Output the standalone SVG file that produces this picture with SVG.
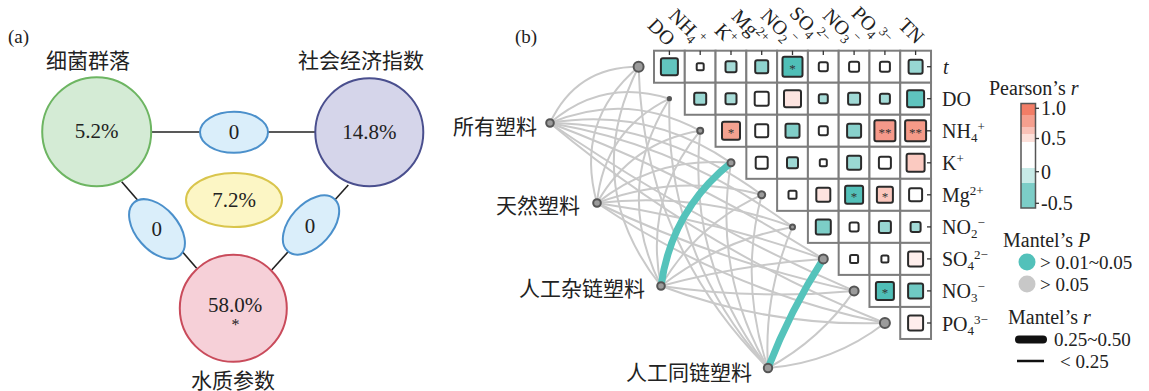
<svg xmlns="http://www.w3.org/2000/svg" width="1149" height="391" viewBox="0 0 1149 391">
<defs>
<style>
.t{font-family:"Liberation Serif","Noto Sans CJK SC",serif;fill:#222;font-size:20px}
.c{font-family:"Liberation Serif","Noto Sans CJK SC",serif;fill:#222;font-size:21px}
.n21{font-family:"Liberation Serif",serif;fill:#222;font-size:21px;text-anchor:middle}
.cell{fill:#fff;stroke:#7d7d7d;stroke-width:2}
.sq{stroke:#2b2b2b;stroke-width:2}
.st{font-family:"Liberation Serif",serif;fill:#333;font-size:13px;text-anchor:middle}
.g{fill:none;stroke:#c9c9c9;stroke-width:2}
.teal{fill:none;stroke:#55c3bb;stroke-width:7;stroke-linecap:round}
.node{fill:#9b9b9b;stroke:#555;stroke-width:2}
.tick{stroke:#333;stroke-width:1.3}
.sub{font-size:13px}
.lnk{stroke:#222;stroke-width:1.6}
.li{font-size:19px}
</style>
<linearGradient id="pr" x1="0" y1="0" x2="0" y2="1">
<stop offset="0" stop-color="#f27d66"/><stop offset="0.11" stop-color="#f27d66"/>
<stop offset="0.11" stop-color="#f59f8e"/><stop offset="0.228" stop-color="#f59f8e"/>
<stop offset="0.228" stop-color="#f9c1b7"/><stop offset="0.292" stop-color="#f9c1b7"/>
<stop offset="0.292" stop-color="#fde0da"/><stop offset="0.366" stop-color="#fde0da"/>
<stop offset="0.366" stop-color="#ffffff"/><stop offset="0.62" stop-color="#ffffff"/>
<stop offset="0.62" stop-color="#c8ebe8"/><stop offset="0.764" stop-color="#c8ebe8"/>
<stop offset="0.764" stop-color="#7ccdc7"/><stop offset="1" stop-color="#7ccdc7"/>
</linearGradient>
</defs>
<rect width="1149" height="391" fill="#fff"/>

<!-- ===== Part (a) ===== -->
<text class="t" x="8" y="43" style="font-size:19px">(a)</text>
<g id="a-links">
<line class="lnk" x1="152" y1="132" x2="315" y2="132"/>
<line class="lnk" x1="121.7" y1="181.7" x2="196.7" y2="268.3"/>
<line class="lnk" x1="348.3" y1="185" x2="271.7" y2="270"/>
</g>
<g id="a-bacteria">
<circle cx="96.7" cy="131.7" r="54.5" fill="#d4ebd5" stroke="#6db562" stroke-width="2"/>
<text class="n21" x="96.7" y="138">5.2%</text>
<text class="c" x="88" y="68" text-anchor="middle">细菌群落</text>
</g>
<g id="a-socio">
<circle cx="369.3" cy="132.3" r="54" fill="#d5d5ea" stroke="#4a4f8e" stroke-width="2"/>
<text class="n21" x="369.3" y="139">14.8%</text>
<text class="c" x="361" y="68" text-anchor="middle">社会经济指数</text>
</g>
<g id="a-water">
<circle cx="233.3" cy="308.3" r="53.5" fill="#f6d0d8" stroke="#c94b5b" stroke-width="2"/>
<text class="n21" x="235" y="312">58.0%</text>
<text class="n21" x="235.5" y="330" style="font-size:16px">*</text>
<text class="c" x="233" y="388" text-anchor="middle">水质参数</text>
</g>
<g id="a-e-top">
<ellipse cx="234" cy="132.3" rx="34" ry="20.5" fill="#daeefa" stroke="#4b90cb" stroke-width="2"/>
<text class="n21" x="234" y="139">0</text>
</g>
<g id="a-e-left">
<ellipse cx="0" cy="0" rx="35" ry="21" transform="translate(157,229) rotate(49)" fill="#daeefa" stroke="#4b90cb" stroke-width="2"/>
<text class="n21" x="156.7" y="236">0</text>
</g>
<g id="a-e-right">
<ellipse cx="0" cy="0" rx="35" ry="21" transform="translate(311,225) rotate(-48)" fill="#daeefa" stroke="#4b90cb" stroke-width="2"/>
<text class="n21" x="310" y="233">0</text>
</g>
<g id="a-e-center">
<ellipse cx="234" cy="200" rx="48" ry="27" fill="#fcf6c5" stroke="#d9c54c" stroke-width="2"/>
<text class="n21" x="234" y="207">7.2%</text>
</g>

<!-- ===== Part (b) ===== -->
<text class="t" x="515" y="43" style="font-size:19px">(b)</text>

<g id="connectors">
<!-- from 所有塑料 -->
<path class="g" d="M550,123 Q576.3,66.5 638.6,66.7"/>
<path class="g" d="M550,123 Q602.9,77.4 669.4,98.7"/>
<path class="g" d="M550,123 Q627,90.9 700.2,130.8"/>
<path class="g" d="M550,123 Q648.5,106.7 731,162.8"/>
<path class="g" d="M550,123 Q667.3,125 761.7,194.8"/>
<path class="g" d="M550,123 Q683.7,145.9 792.5,226.9"/>
<path class="g" d="M550,123 Q693.4,177.3 823.3,258.9"/>
<path class="g" d="M550,123 Q693.7,222 854.1,290.9"/>
<path class="g" d="M550,123 Q701.5,249.9 884.9,323"/>
<!-- from 天然塑料 -->
<path class="g" d="M597,203 Q574.2,121.5 638.6,66.7"/>
<path class="g" d="M597,203 Q604,130.6 669.4,98.7"/>
<path class="g" d="M597,203 Q631.3,142.1 700.2,130.8"/>
<path class="g" d="M597,203 Q656,156.1 731,162.8"/>
<path class="g" d="M597,203 Q678,172.6 761.7,194.8"/>
<path class="g" d="M597,203 Q697.6,191.5 792.5,226.9"/>
<path class="g" d="M597,203 Q713,219.6 823.3,258.9"/>
<path class="g" d="M597,203 Q720.3,262.4 854.1,290.9"/>
<path class="g" d="M597,203 Q729,291.8 884.9,323"/>
<!-- from 人工杂链塑料 -->
<path class="g" d="M661,286 Q579.6,183.5 638.6,66.7"/>
<path class="g" d="M661,286 Q612.8,190 669.4,98.7"/>
<path class="g" d="M661,286 Q643.4,199 700.2,130.8"/>
<path class="g" d="M661,286 Q696.8,224.3 761.7,194.8"/>
<path class="g" d="M661,286 Q719.7,240.7 792.5,226.9"/>
<path class="g" d="M661,286 Q740.8,264.3 823.3,258.9"/>
<path class="g" d="M661,286 Q757.3,300 854.1,290.9"/>
<path class="g" d="M661,286 Q769.3,326.9 884.9,323"/>
<!-- from 人工同链塑料 -->
<path class="g" d="M768,368 Q643,243.3 638.6,66.7"/>
<path class="g" d="M768,368 Q664.8,253 669.4,98.7"/>
<path class="g" d="M768,368 Q686.7,263 700.2,130.8"/>
<path class="g" d="M768,368 Q712.6,272.1 731,162.8"/>
<path class="g" d="M768,368 Q738.9,282.4 761.7,194.8"/>
<path class="g" d="M768,368 Q763.4,294.5 792.5,226.9"/>
<path class="g" d="M768,368 Q820.3,339.8 854.1,290.9"/>
<path class="g" d="M768,368 Q833.2,363 884.9,323"/>
<!-- significant links -->
<path class="teal" d="M661,286 Q671.4,210.4 731,162.8"/>
<path class="teal" d="M768,368 Q790.2,310.7 823.3,258.9"/>
</g>

<g id="heatmap">
<g id="row-t">
<rect class="cell" x="654" y="50.7" width="30.78" height="32.03"/>
<rect class="cell" x="684.78" y="50.7" width="30.78" height="32.03"/>
<rect class="cell" x="715.56" y="50.7" width="30.78" height="32.03"/>
<rect class="cell" x="746.34" y="50.7" width="30.78" height="32.03"/>
<rect class="cell" x="777.12" y="50.7" width="30.78" height="32.03"/>
<rect class="cell" x="807.9" y="50.7" width="30.78" height="32.03"/>
<rect class="cell" x="838.68" y="50.7" width="30.78" height="32.03"/>
<rect class="cell" x="869.46" y="50.7" width="30.78" height="32.03"/>
<rect class="cell" x="900.24" y="50.7" width="30.78" height="32.03"/>
<rect class="sq" x="660.9" y="58.2" width="17" height="17" rx="2" fill="#62c4be"/>
<rect class="sq" x="696.7" y="63.2" width="7" height="7" rx="1.5" fill="#fff"/>
<rect class="sq" x="725.5" y="61.2" width="11" height="11" rx="2" fill="#a5dbd7"/>
<rect class="sq" x="755.2" y="60.2" width="13" height="13" rx="2" fill="#8ed3ce"/>
<rect class="sq" x="782.5" y="56.7" width="20" height="20" rx="2" fill="#4fbfb7"/>
<text class="st" x="792.5" y="72.5">*</text>
<rect class="sq" x="818.8" y="62.2" width="9" height="9" rx="2" fill="#fff"/>
<rect class="sq" x="849.1" y="61.7" width="10" height="10" rx="2" fill="#fff"/>
<rect class="sq" x="879.9" y="61.7" width="10" height="10" rx="2" fill="#fff"/>
<rect class="sq" x="908.6" y="59.7" width="14" height="14" rx="2" fill="#98d7d3"/>
</g>
<g id="row-DO">
<rect class="cell" x="684.78" y="82.73" width="30.78" height="32.03"/>
<rect class="cell" x="715.56" y="82.73" width="30.78" height="32.03"/>
<rect class="cell" x="746.34" y="82.73" width="30.78" height="32.03"/>
<rect class="cell" x="777.12" y="82.73" width="30.78" height="32.03"/>
<rect class="cell" x="807.9" y="82.73" width="30.78" height="32.03"/>
<rect class="cell" x="838.68" y="82.73" width="30.78" height="32.03"/>
<rect class="cell" x="869.46" y="82.73" width="30.78" height="32.03"/>
<rect class="cell" x="900.24" y="82.73" width="30.78" height="32.03"/>
<rect class="sq" x="694.2" y="92.7" width="12" height="12" rx="2" fill="#9ad8d3"/>
<rect class="sq" x="725.5" y="93.2" width="11" height="11" rx="2" fill="#a9ddd9"/>
<rect class="sq" x="754.7" y="91.7" width="14" height="14" rx="2" fill="#fff"/>
<rect class="sq" x="784" y="90.2" width="17" height="17" rx="2" fill="#fde4e0"/>
<rect class="sq" x="818.8" y="94.2" width="9" height="9" rx="2" fill="#a8dcd8"/>
<rect class="sq" x="848.1" y="92.7" width="12" height="12" rx="2" fill="#a0d9d5"/>
<rect class="sq" x="879.9" y="93.7" width="10" height="10" rx="2" fill="#a3dbd7"/>
<rect class="sq" x="907.1" y="90.2" width="17" height="17" rx="2" fill="#5fc4be"/>
</g>
<g id="row-NH4">
<rect class="cell" x="715.56" y="114.76" width="30.78" height="32.03"/>
<rect class="cell" x="746.34" y="114.76" width="30.78" height="32.03"/>
<rect class="cell" x="777.12" y="114.76" width="30.78" height="32.03"/>
<rect class="cell" x="807.9" y="114.76" width="30.78" height="32.03"/>
<rect class="cell" x="838.68" y="114.76" width="30.78" height="32.03"/>
<rect class="cell" x="869.46" y="114.76" width="30.78" height="32.03"/>
<rect class="cell" x="900.24" y="114.76" width="30.78" height="32.03"/>
<rect class="sq" x="722" y="121.8" width="18" height="18" rx="2" fill="#f4a290"/>
<text class="st" x="731" y="136.8">*</text>
<rect class="sq" x="755.2" y="124.3" width="13" height="13" rx="2" fill="#fff"/>
<rect class="sq" x="785.5" y="123.8" width="14" height="14" rx="2" fill="#80cec8"/>
<rect class="sq" x="818.8" y="126.3" width="9" height="9" rx="2" fill="#fff"/>
<rect class="sq" x="847.1" y="123.8" width="14" height="14" rx="2" fill="#88d1cc"/>
<rect class="sq" x="874.4" y="120.3" width="21" height="21" rx="2" fill="#f5998a"/>
<text class="st" x="884.9" y="136.8">**</text>
<rect class="sq" x="905.1" y="120.3" width="21" height="21" rx="2" fill="#f59a88"/>
<text class="st" x="915.6" y="136.8">**</text>
</g>
<g id="row-K">
<rect class="cell" x="746.34" y="146.79" width="30.78" height="32.03"/>
<rect class="cell" x="777.12" y="146.79" width="30.78" height="32.03"/>
<rect class="cell" x="807.9" y="146.79" width="30.78" height="32.03"/>
<rect class="cell" x="838.68" y="146.79" width="30.78" height="32.03"/>
<rect class="cell" x="869.46" y="146.79" width="30.78" height="32.03"/>
<rect class="cell" x="900.24" y="146.79" width="30.78" height="32.03"/>
<rect class="sq" x="755.7" y="156.8" width="12" height="12" rx="2" fill="#fff"/>
<rect class="sq" x="787" y="157.3" width="11" height="11" rx="2" fill="#9dd8d4"/>
<rect class="sq" x="819.8" y="159.3" width="7" height="7" rx="1.5" fill="#fff"/>
<rect class="sq" x="847.1" y="155.8" width="14" height="14" rx="2" fill="#9ad8d3"/>
<rect class="sq" x="878.9" y="156.8" width="12" height="12" rx="2" fill="#fff"/>
<rect class="sq" x="906.6" y="153.8" width="18" height="18" rx="2" fill="#fbcac1"/>
</g>
<g id="row-Mg">
<rect class="cell" x="777.12" y="178.82" width="30.78" height="32.03"/>
<rect class="cell" x="807.9" y="178.82" width="30.78" height="32.03"/>
<rect class="cell" x="838.68" y="178.82" width="30.78" height="32.03"/>
<rect class="cell" x="869.46" y="178.82" width="30.78" height="32.03"/>
<rect class="cell" x="900.24" y="178.82" width="30.78" height="32.03"/>
<rect class="sq" x="788.5" y="190.8" width="8" height="8" rx="1.5" fill="#fff"/>
<rect class="sq" x="816.3" y="187.8" width="14" height="14" rx="2" fill="#fde3df"/>
<rect class="sq" x="845.1" y="185.8" width="18" height="18" rx="2" fill="#53c0b9"/>
<text class="st" x="854.1" y="200.8">*</text>
<rect class="sq" x="876.9" y="186.8" width="16" height="16" rx="2" fill="#fbc8be"/>
<text class="st" x="884.9" y="200.8">*</text>
<rect class="sq" x="909.1" y="188.3" width="13" height="13" rx="2" fill="#fff"/>
</g>
<g id="row-NO2">
<rect class="cell" x="807.9" y="210.85" width="30.78" height="32.03"/>
<rect class="cell" x="838.68" y="210.85" width="30.78" height="32.03"/>
<rect class="cell" x="869.46" y="210.85" width="30.78" height="32.03"/>
<rect class="cell" x="900.24" y="210.85" width="30.78" height="32.03"/>
<rect class="sq" x="815.8" y="219.4" width="15" height="15" rx="2" fill="#7ccdc7"/>
<rect class="sq" x="849.6" y="222.4" width="9" height="9" rx="2" fill="#fff"/>
<rect class="sq" x="878.9" y="220.9" width="12" height="12" rx="2" fill="#98d7d2"/>
<rect class="sq" x="910.6" y="221.9" width="10" height="10" rx="2" fill="#a3dbd7"/>
</g>
<g id="row-SO4">
<rect class="cell" x="838.68" y="242.88" width="30.78" height="32.03"/>
<rect class="cell" x="869.46" y="242.88" width="30.78" height="32.03"/>
<rect class="cell" x="900.24" y="242.88" width="30.78" height="32.03"/>
<rect class="sq" x="850.1" y="254.9" width="8" height="8" rx="1.5" fill="#fff"/>
<rect class="sq" x="881.4" y="255.4" width="7" height="7" rx="1.5" fill="#fff"/>
<rect class="sq" x="908.1" y="251.4" width="15" height="15" rx="2" fill="#feeeec"/>
</g>
<g id="row-NO3">
<rect class="cell" x="869.46" y="274.91" width="30.78" height="32.03"/>
<rect class="cell" x="900.24" y="274.91" width="30.78" height="32.03"/>
<rect class="sq" x="875.9" y="281.9" width="18" height="18" rx="2" fill="#4fbeb7"/>
<text class="st" x="884.9" y="296.9">*</text>
<rect class="sq" x="908.1" y="283.4" width="15" height="15" rx="2" fill="#6fc9c3"/>
</g>
<g id="row-PO4">
<rect class="cell" x="900.24" y="306.94" width="30.78" height="32.03"/>
<rect class="sq" x="908.1" y="315.4" width="15" height="15" rx="2" fill="#feeeec"/>
</g>
<g id="ticks">
<line class="tick" x1="669.4" y1="50.7" x2="669.4" y2="55"/>
<line class="tick" x1="700.2" y1="50.7" x2="700.2" y2="55"/>
<line class="tick" x1="731" y1="50.7" x2="731" y2="55"/>
<line class="tick" x1="761.7" y1="50.7" x2="761.7" y2="55"/>
<line class="tick" x1="792.5" y1="50.7" x2="792.5" y2="55"/>
<line class="tick" x1="823.3" y1="50.7" x2="823.3" y2="55"/>
<line class="tick" x1="854.1" y1="50.7" x2="854.1" y2="55"/>
<line class="tick" x1="884.9" y1="50.7" x2="884.9" y2="55"/>
<line class="tick" x1="915.6" y1="50.7" x2="915.6" y2="55"/>
<line class="tick" x1="927" y1="66.7" x2="931" y2="66.7"/>
<line class="tick" x1="927" y1="98.7" x2="931" y2="98.7"/>
<line class="tick" x1="927" y1="130.8" x2="931" y2="130.8"/>
<line class="tick" x1="927" y1="162.8" x2="931" y2="162.8"/>
<line class="tick" x1="927" y1="194.8" x2="931" y2="194.8"/>
<line class="tick" x1="927" y1="226.9" x2="931" y2="226.9"/>
<line class="tick" x1="927" y1="258.9" x2="931" y2="258.9"/>
<line class="tick" x1="927" y1="290.9" x2="931" y2="290.9"/>
<line class="tick" x1="927" y1="323" x2="931" y2="323"/>
</g>
</g>

<g id="col-labels" class="t" text-anchor="end">
<text transform="translate(667,47) rotate(45)">DO</text>
<text transform="translate(698,47) rotate(45)">NH<tspan class="sub" dy="4">4</tspan><tspan class="sub" dy="-11">+</tspan></text>
<text transform="translate(729,47) rotate(45)">K<tspan class="sub" dy="-7">+</tspan></text>
<text transform="translate(760,47) rotate(45)">Mg<tspan class="sub" dy="-7">2+</tspan></text>
<text transform="translate(790,47) rotate(45)">NO<tspan class="sub" dy="4">2</tspan><tspan class="sub" dy="-11">−</tspan></text>
<text transform="translate(821,47) rotate(45)">SO<tspan class="sub" dy="4">4</tspan><tspan class="sub" dy="-11">2−</tspan></text>
<text transform="translate(852,47) rotate(45)">NO<tspan class="sub" dy="4">3</tspan><tspan class="sub" dy="-11">−</tspan></text>
<text transform="translate(883,47) rotate(45)">PO<tspan class="sub" dy="4">4</tspan><tspan class="sub" dy="-11">3−</tspan></text>
<text transform="translate(916,45) rotate(45)">TN</text>
</g>

<g id="row-labels" class="t">
<text x="943" y="74" font-style="italic">t</text>
<text x="942" y="106.2">DO</text>
<text x="942" y="138.3">NH<tspan class="sub" dy="4">4</tspan><tspan class="sub" dy="-11">+</tspan></text>
<text x="942" y="170.3">K<tspan class="sub" dy="-7">+</tspan></text>
<text x="942" y="202.3">Mg<tspan class="sub" dy="-7">2+</tspan></text>
<text x="942" y="234.4">NO<tspan class="sub" dy="4">2</tspan><tspan class="sub" dy="-11">−</tspan></text>
<text x="942" y="266.4">SO<tspan class="sub" dy="4">4</tspan><tspan class="sub" dy="-11">2−</tspan></text>
<text x="942" y="298.4">NO<tspan class="sub" dy="4">3</tspan><tspan class="sub" dy="-11">−</tspan></text>
<text x="942" y="330.5">PO<tspan class="sub" dy="4">4</tspan><tspan class="sub" dy="-11">3−</tspan></text>
</g>

<g id="env-nodes">
<circle class="node" cx="638.6" cy="66.7" r="5"/>
<circle cx="669.4" cy="98.7" r="2.6" fill="#555"/>
<circle class="node" cx="700.2" cy="130.8" r="3"/>
<circle class="node" cx="731" cy="162.8" r="3.5"/>
<circle class="node" cx="761.7" cy="194.8" r="3.5"/>
<circle class="node" cx="792.5" cy="226.9" r="2.5"/>
<circle class="node" cx="823.3" cy="258.9" r="4.5"/>
<circle class="node" cx="854.1" cy="290.9" r="4.5"/>
<circle class="node" cx="884.9" cy="323" r="5"/>
</g>
<g id="node-all">
<circle class="node" cx="550" cy="123" r="3.8"/>
<text class="c" x="537" y="134" text-anchor="end">所有塑料</text>
</g>
<g id="node-natural">
<circle class="node" cx="597" cy="203" r="3.8"/>
<text class="c" x="580" y="213" text-anchor="end">天然塑料</text>
</g>
<g id="node-hetero">
<circle class="node" cx="661" cy="286" r="3.8"/>
<text class="c" x="645" y="296" text-anchor="end">人工杂链塑料</text>
</g>
<g id="node-homo">
<circle class="node" cx="768" cy="368" r="4.2"/>
<text class="c" x="752" y="380" text-anchor="end">人工同链塑料</text>
</g>

<g id="legend" class="t">
<text x="989" y="95">Pearson’s <tspan font-style="italic">r</tspan></text>
<rect x="1021" y="103.5" width="14.5" height="104.5" fill="url(#pr)" stroke="#555" stroke-width="1.5"/>
<line class="tick" x1="1035.5" y1="108.3" x2="1039" y2="108.3"/>
<line class="tick" x1="1035.5" y1="138.5" x2="1039" y2="138.5"/>
<line class="tick" x1="1035.5" y1="171.7" x2="1039" y2="171.7"/>
<line class="tick" x1="1035.5" y1="203.3" x2="1039" y2="203.3"/>
<text x="1041" y="115">1.0</text>
<text x="1041" y="145">0.5</text>
<text x="1041" y="178.5">0</text>
<text x="1041" y="210">-0.5</text>
<text x="1003" y="247">Mantel’s <tspan font-style="italic">P</tspan></text>
<circle cx="1027" cy="262" r="8.5" fill="#52c1ba"/>
<text class="li" x="1040" y="268.5">&gt; 0.01~0.05</text>
<circle cx="1027" cy="284" r="8.5" fill="#c8c8c8"/>
<text class="li" x="1040" y="290.5">&gt; 0.05</text>
<text x="1008" y="324">Mantel’s <tspan font-style="italic">r</tspan></text>
<line x1="1019" y1="339.5" x2="1043" y2="339.5" stroke="#111" stroke-width="8" stroke-linecap="round"/>
<text class="li" x="1054" y="346">0.25~0.50</text>
<line x1="1017" y1="361" x2="1044" y2="361" stroke="#111" stroke-width="2.5"/>
<text class="li" x="1060" y="367.5">&lt; 0.25</text>
</g>
</svg>
